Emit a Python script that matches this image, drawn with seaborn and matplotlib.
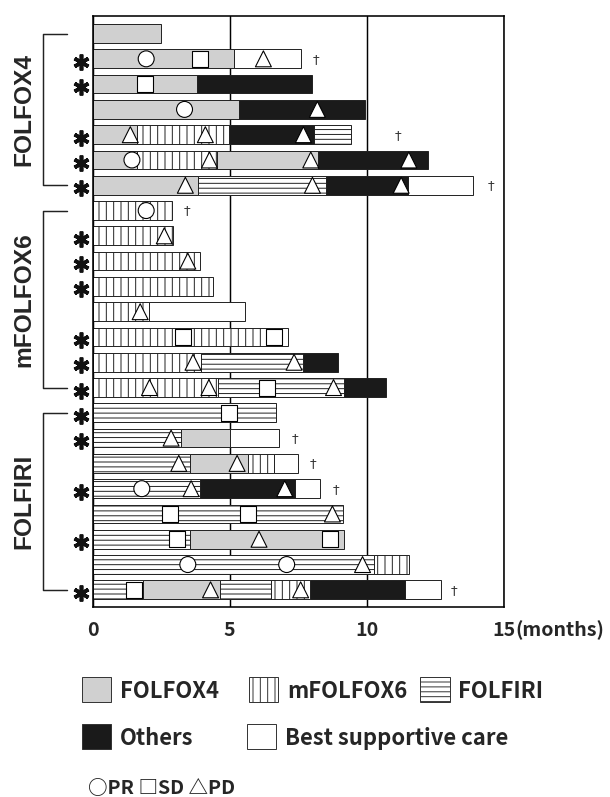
import numpy as np
import pandas as pd
import matplotlib
matplotlib.use("Agg")
import matplotlib.pyplot as plt
from matplotlib.patches import Patch
import seaborn as sns

sns.set_style("white")
plt.rcParams['font.family'] = ['Noto Sans CJK JP', 'DejaVu Sans']
plt.rcParams['hatch.linewidth'] = 0.8

# ---- data (months) ----
group_names = ["FOLFOX4", "mFOLFOX6", "FOLFIRI"]
group_first = [0, 7, 15]
group_last = [6, 14, 22]

# regimen sequence of every patient (row) and the month where each one ends
seg_regimen = [
    ["F4"],
    ["F4", "BSC"],
    ["F4", "OT"],
    ["F4", "OT"],
    ["F4", "m6", "OT", "FI"],
    ["F4", "m6", "F4", "OT"],
    ["F4", "FI", "OT", "BSC"],
    ["m6"],
    ["m6"],
    ["m6"],
    ["m6"],
    ["m6", "BSC"],
    ["m6"],
    ["m6", "FI", "OT"],
    ["m6", "FI", "OT"],
    ["FI"],
    ["FI", "F4", "BSC"],
    ["FI", "F4", "m6", "BSC"],
    ["FI", "OT", "BSC"],
    ["FI"],
    ["FI", "F4"],
    ["FI", "m6"],
    ["FI", "F4", "FI", "m6", "OT", "BSC"],
]
seg_end = [
    [2.5],
    [5.15, 7.6],
    [3.8, 8.0],
    [5.33, 9.95],
    [1.63, 4.97, 8.08, 9.43],
    [1.63, 4.54, 8.24, 12.23],
    [3.83, 8.5, 11.5, 13.88],
    [2.89],
    [2.93],
    [3.91],
    [4.39],
    [2.07, 5.54],
    [7.13],
    [3.96, 7.68, 8.94],
    [4.57, 9.18, 10.71],
    [6.68],
    [3.22, 5.0, 6.8],
    [3.54, 5.66, 6.62, 7.5],
    [3.93, 7.37, 8.3],
    [9.12],
    [3.54, 9.16],
    [10.26, 11.56],
    [1.85, 4.64, 6.5, 7.94, 11.4, 12.7],
]

# responses
pr_rows = [1, 3, 5, 7, 18, 21, 21]
pr_months = [1.95, 3.35, 1.43, 1.95, 1.79, 3.47, 7.08]
sd_rows = [1, 2, 12, 12, 14, 15, 19, 19, 20, 20, 22]
sd_months = [3.93, 1.92, 3.28, 6.62, 6.37, 4.97, 2.81, 5.66, 3.08, 8.67, 1.51]
pd_rows = [1, 3, 4, 4, 4, 5, 5, 5, 6, 6, 6, 8, 9, 11, 13, 13, 14, 14, 14,
           16, 17, 17, 18, 18, 19, 20, 21, 22, 22]
pd_months = [6.23, 8.2, 1.37, 4.11, 7.69, 4.26, 7.96, 11.54, 3.38, 8.02, 11.26,
             2.61, 3.47, 1.73, 3.66, 7.35, 2.07, 4.24, 8.79, 2.86, 3.14, 5.27,
             3.59, 7.01, 8.75, 6.07, 9.85, 4.3, 7.59]

# deaths (dagger) and asterisk flags
death_rows = [1, 4, 6, 7, 16, 17, 18, 22]
death_months = [8.15, 11.15, 14.55, 3.45, 7.4, 8.04, 8.88, 13.2]
star_rows = [1, 2, 4, 5, 6, 8, 9, 10, 12, 13, 14, 15, 16, 18, 20, 22]

reg_names = {"F4": "FOLFOX4", "m6": "mFOLFOX6", "FI": "FOLFIRI",
             "OT": "Others", "BSC": "Best supportive care"}
reg_face = {"F4": "#d0d0d0", "m6": "white", "FI": "white", "OT": "#1a1a1a", "BSC": "white"}
reg_hatch = {"F4": None, "m6": "||", "FI": "---", "OT": None, "BSC": None}

# ---- tidy tables ----
recs = []
for i, (regs, ends) in enumerate(zip(seg_regimen, seg_end)):
    start = 0
    for r, e in zip(regs, ends):
        recs.append((i, r, start, e))
        start = e
seg = pd.DataFrame(recs, columns=["row", "regimen", "start", "end"])

resp = pd.concat([
    pd.DataFrame({"row": pr_rows, "month": pr_months, "resp": "PR"}),
    pd.DataFrame({"row": sd_rows, "month": sd_months, "resp": "SD"}),
    pd.DataFrame({"row": pd_rows, "month": pd_months, "resp": "PD"}),
])

DPI = 88
fig = plt.figure(figsize=(610.4 / DPI, 797.4 / DPI), dpi=DPI)
ax = fig.add_axes([0.152, 0.2384, 0.673, 0.7416])

for reg, d in seg.groupby("regimen"):
    ax.barh(d["row"], d["end"] - d["start"], left=d["start"], height=0.74,
            color=reg_face[reg], hatch=reg_hatch[reg], edgecolor="#222222",
            linewidth=0.8, zorder=2)

sns.scatterplot(data=resp, x="month", y="row", style="resp",
                markers={"PR": "o", "SD": "s", "PD": "^"}, s=170,
                color="white", edgecolor="black", linewidth=0.9,
                legend=False, ax=ax, zorder=3)

for r, m in zip(death_rows, death_months):
    ax.text(m, r, "\u2020", ha="center", va="center", fontsize=11,
            color="#333333", family="DejaVu Sans")

ax.plot([-0.43] * len(star_rows), [r + 0.12 for r in star_rows], ls="none",
        marker=(6, 2, 0), ms=13, mew=3.0, color="#111111", clip_on=False)

for name, a, b in zip(group_names, group_first, group_last):
    ax.plot([-0.94, -1.82, -1.82, -0.94], [a, a, b, b], color="#222222",
            lw=1.2, clip_on=False)
    ax.text(-2.51, (a + b) / 2, name, rotation=90, ha="center", va="center",
            fontsize=20, fontweight="bold", family="Liberation Sans")

ax.set_xlim(0, 15)
ax.set_ylim(22.675, -0.712)
ax.set(xlabel="", ylabel="")
ax.set_yticks([])
ax.set_xticks([0, 5, 10, 15], ["0", "5", "10", "15"])
ax.tick_params(axis="x", length=0, pad=11, labelsize=16)
for lbl in ax.get_xticklabels():
    lbl.set_fontweight("bold")
ax.annotate("(months)", xy=(1, 0), xycoords=ax.get_xticklabels()[-1],
            ha="left", va="bottom", fontsize=16, fontweight="bold")
ax.xaxis.grid(True, color="black", lw=1.2)
ax.set_axisbelow(True)
for sp in ax.spines.values():
    sp.set_color("black")
    sp.set_linewidth(1.3)

# legend entries, one box each
leg_items = ["F4", "m6", "FI", "OT", "BSC"]
leg_x = [82, 249, 420, 82, 247]
leg_y = [690, 690, 690, 737, 737]
for key, x, y in zip(leg_items, leg_x, leg_y):
    h = Patch(facecolor=reg_face[key], hatch=reg_hatch[key], edgecolor="#333333",
              linewidth=0.8, label=reg_names[key])
    fig.legend(handles=[h], loc="center left", bbox_to_anchor=(x / 610, 1 - y / 797),
               frameon=False, borderpad=0, borderaxespad=0,
               handlelength=1.33, handleheight=1.37, handletextpad=0.4,
               prop={"size": 18, "weight": "bold"})

fig.text(88 / 610, 1 - 788 / 797, "\u25cbPR \u25a1SD \u25b3PD", ha="left", va="center",
         fontsize=16, fontweight="bold")

fig.savefig("out.png", dpi=DPI)
